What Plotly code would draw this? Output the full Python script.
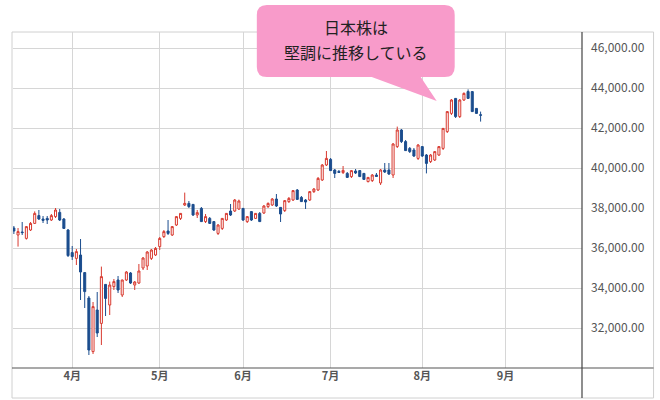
import plotly.graph_objects as go

# trading days (2025) and OHLC
dates = [
    "2025-03-11", "2025-03-12", "2025-03-13", "2025-03-14", "2025-03-17", "2025-03-18", "2025-03-19",
    "2025-03-21", "2025-03-24", "2025-03-25", "2025-03-26", "2025-03-27", "2025-03-28", "2025-03-31",
    "2025-04-01", "2025-04-02", "2025-04-03", "2025-04-04", "2025-04-07", "2025-04-08", "2025-04-09",
    "2025-04-10", "2025-04-11", "2025-04-14", "2025-04-15", "2025-04-16", "2025-04-17", "2025-04-18",
    "2025-04-21", "2025-04-22", "2025-04-23", "2025-04-24", "2025-04-25", "2025-04-28", "2025-04-30",
    "2025-05-01", "2025-05-02", "2025-05-07", "2025-05-08", "2025-05-09", "2025-05-12", "2025-05-13",
    "2025-05-14", "2025-05-15", "2025-05-16", "2025-05-19", "2025-05-20", "2025-05-21", "2025-05-22",
    "2025-05-23", "2025-05-26", "2025-05-27", "2025-05-28", "2025-05-29", "2025-05-30",
    "2025-06-02", "2025-06-03", "2025-06-04", "2025-06-05", "2025-06-06", "2025-06-09", "2025-06-10",
    "2025-06-11", "2025-06-12", "2025-06-13", "2025-06-16", "2025-06-17", "2025-06-18", "2025-06-19",
    "2025-06-20", "2025-06-23", "2025-06-24", "2025-06-25", "2025-06-26", "2025-06-27", "2025-06-30",
    "2025-07-01", "2025-07-02", "2025-07-03", "2025-07-04", "2025-07-07", "2025-07-08", "2025-07-09",
    "2025-07-10", "2025-07-11", "2025-07-14", "2025-07-15", "2025-07-16", "2025-07-17", "2025-07-18",
    "2025-07-22", "2025-07-23", "2025-07-24", "2025-07-25", "2025-07-28", "2025-07-29", "2025-07-30",
    "2025-07-31", "2025-08-01", "2025-08-04", "2025-08-05", "2025-08-06", "2025-08-07", "2025-08-08",
    "2025-08-12", "2025-08-13", "2025-08-14", "2025-08-15", "2025-08-18", "2025-08-19", "2025-08-20",
    "2025-08-21", "2025-08-22",
]
open_ = [
    37000, 36650, 36800, 36480, 36900, 37230, 37620, 37450, 37480, 37400, 37570, 37780, 37450, 36900,
    35770, 35480, 35650, 34770, 33500, 30820, 32900, 32230, 34180, 33150, 34070, 34400, 33650, 34400,
    34750, 34150, 34250, 35000, 35100, 35480, 35650,
    36070, 36570, 36850, 36650, 37150, 37480, 38150, 38230, 38180, 37650, 37980, 37320, 37480, 37320,
    36730, 36980, 37400, 37850, 37850, 37950,
    37980, 37320, 37820, 37480, 37730, 37750, 38070, 38150, 38450, 38030, 37870, 38320, 38400, 38900,
    38530, 38400, 38400, 38820, 38900, 39400, 40150,
    40430, 39900, 39830, 39770, 39730, 39570, 39850, 39870, 39730, 39320, 39370, 39650, 39250, 39900,
    39900, 39650, 41070, 41900, 41320, 40980, 40900, 40480,
    41070, 40650, 40320, 40400, 40650, 40980, 41820, 42730, 43480, 42570, 43400, 43820, 43820,
    42980, 42660,
]
high = [
    37100, 37000, 37300, 37100, 37300, 37830, 37900, 37600, 37600, 37700, 38000, 37950, 37500, 36950,
    36100, 35950, 36450, 34800, 33600, 33300, 33800, 35070, 34200, 34320, 34450, 34600, 34420, 34850,
    34800, 34350, 35200, 35550, 35850, 35950, 36050,
    36550, 36900, 37400, 37100, 37600, 37750, 38770, 38350, 38200, 37900, 38050, 37700, 37550, 37350,
    37200, 37500, 37750, 38200, 38450, 38420,
    38000, 37600, 37850, 37750, 37800, 38150, 38280, 38500, 38700, 38050, 38400, 38550, 38900, 38950,
    38600, 38450, 38850, 39000, 39550, 40200, 40850,
    40500, 39950, 39900, 40100, 39800, 39900, 39950, 39900, 39750, 39550, 39700, 39750, 39950, 40250,
    40250, 41250, 42070, 41950, 41400, 41050, 41000, 41200,
    41100, 40700, 40700, 40850, 41100, 42000, 42850, 43450, 43500, 43450, 43780, 43930, 43850,
    43000, 42820,
]
low = [
    36700, 36070, 36650, 36420, 36850, 37200, 37400, 37250, 37200, 37350, 37500, 37350, 36950, 35550,
    35400, 35150, 33400, 33000, 30650, 30700, 31550, 31150, 32600, 32650, 33900, 33750, 33550, 34350,
    34200, 33900, 34200, 34900, 34900, 35400, 35600,
    35900, 36500, 36650, 36600, 37100, 37400, 38100, 38000, 37600, 37500, 37300, 37250, 37200, 36850,
    36650, 36900, 37350, 37600, 37800, 37900,
    37350, 37250, 37350, 37450, 37300, 37700, 38000, 38100, 38050, 37300, 37800, 38250, 38350, 38400,
    38300, 37950, 38350, 38750, 38850, 39350, 40100,
    39850, 39500, 39750, 39700, 39500, 39500, 39700, 39550, 39400, 39280, 39300, 39550, 39150, 39750,
    39650, 39500, 41000, 41250, 40850, 40750, 40550, 40400,
    40550, 39730, 40250, 40350, 40600, 40900, 41750, 42650, 42500, 42500, 43350, 43450, 42800,
    42700, 42320,
]
close = [
    36850, 36820, 36770, 37070, 37230, 37730, 37450, 37380, 37400, 37620, 37900, 37400, 36980, 35620,
    35570, 35820, 34800, 33820, 30900, 33070, 31750, 34570, 33480, 34150, 34320, 33900, 34400, 34800,
    34250, 34300, 34850, 35500, 35800, 35900, 35980,
    36480, 36820, 36730, 37070, 37570, 37730, 38230, 38070, 37650, 37770, 37320, 37570, 37230, 36900,
    37150, 37480, 37730, 37650, 38400, 38350,
    37400, 37570, 37400, 37730, 37320, 38100, 38230, 38450, 38100, 37700, 38370, 38480, 38870, 38430,
    38320, 38300, 38820, 38950, 39480, 40150, 40480,
    39870, 39730, 39780, 39880, 39530, 39870, 39750, 39570, 39430, 39530, 39650, 39580, 39900, 39800,
    39700, 41200, 41900, 41320, 40870, 40820, 40600, 41150,
    40600, 40230, 40650, 40820, 41070, 41980, 42820, 43400, 42570, 43400, 43730, 43480, 42820,
    42730, 42640,
]

# Tokyo market holidays in view (removed from the axis with weekends)
holidays = ["2025-03-20", "2025-04-29", "2025-05-05", "2025-05-06", "2025-07-21",
            "2025-08-11", "2025-09-15", "2025-09-23"]

month_ticks = ["2025-04-01", "2025-05-01", "2025-06-02", "2025-07-01", "2025-08-01", "2025-09-01"]
month_labels = ["4月", "5月", "6月", "7月", "8月", "9月"]

price_ticks = [32000, 34000, 36000, 38000, 40000, 42000, 44000, 46000]

callout_lines = ["日本株は", "堅調に推移している"]

# plot area in pixels (660x400 canvas)
L, R, T, B = 13, 582.4, 32, 368
W, H = R - L, B - T


def px(x):
    return (x - L) / W


def py(y):
    return (B - y) / H


fig = go.Figure()
fig.add_trace(go.Candlestick(
    x=dates, open=open_, high=high, low=low, close=close,
    increasing=dict(line=dict(color="#d8392f", width=1), fillcolor="white"),
    decreasing=dict(line=dict(color="#1b4d8e", width=1), fillcolor="#1b4d8e"),
    whiskerwidth=0,
    hoverinfo="skip",
))

# speech bubble
bl, br, bt, bb, r = 257, 455, 5, 77, 10
pts = [("M", bl + r, bt), ("L", br - r, bt), ("Q", br, bt, br, bt + r), ("L", br, bb - r),
       ("Q", br, bb, br - r, bb), ("L", 421, bb), ("L", 437, 101), ("L", 372, bb),
       ("L", bl + r, bb), ("Q", bl, bb, bl, bb - r), ("L", bl, bt + r), ("Q", bl, bt, bl + r, bt)]
path = ""
for p in pts:
    cmd, coords = p[0], p[1:]
    xy = []
    for i in range(0, len(coords), 2):
        xy.append(f"{px(coords[i]):.5f},{py(coords[i + 1]):.5f}")
    path += cmd + " ".join(xy) + " "
path += "Z"

shapes = [
    # outer frame
    dict(type="rect", xref="paper", yref="paper", x0=px(12), x1=px(654), y0=py(398), y1=py(32),
         line=dict(color="#d0d0d0", width=1), layer="below"),
    # bottom axis line, full width
    dict(type="line", xref="paper", yref="paper", x0=px(12), x1=px(654), y0=0, y1=0,
         line=dict(color="#555555", width=1.2)),
    # right price axis line, down through the date band
    dict(type="line", xref="paper", yref="paper", x0=1, x1=1, y0=py(398), y1=1,
         line=dict(color="#444444", width=1.2)),
    dict(type="path", xref="paper", yref="paper", path=path,
         fillcolor="#f89bca", line=dict(width=0), layer="above"),
]

annotations = []
for text, ypix in zip(callout_lines, [27, 52]):
    annotations.append(dict(
        xref="paper", yref="paper", x=px(356), y=py(ypix), xanchor="center", yanchor="middle",
        text=text, showarrow=False, font=dict(size=16, color="#222222"),
    ))

fig.update_layout(
    width=660, height=400,
    margin=dict(l=L, r=660 - R, t=T, b=400 - B),
    paper_bgcolor="white", plot_bgcolor="white",
    showlegend=False,
    font=dict(family="Noto Sans CJK JP, Noto Sans, sans-serif", color="#555555"),
    shapes=shapes,
    annotations=annotations,
)
fig.update_xaxes(
    type="date",
    range=["2025-03-10 19:00", "2025-09-29 08:00"],
    rangebreaks=[dict(bounds=["sat", "mon"]), dict(values=holidays)],
    rangeslider=dict(visible=False),
    tickmode="array", tickvals=month_ticks, ticktext=month_labels,
    showgrid=True, gridcolor="#d6d6d6", gridwidth=1,
    showline=False, zeroline=False, ticks="",
    tickfont=dict(size=11, color="#555555", weight="bold"),
)
fig.update_yaxes(
    side="right",
    range=[30000, 46800],
    tickmode="array", tickvals=price_ticks, tickformat=",.2f",
    showgrid=True, gridcolor="#d6d6d6", gridwidth=1,
    showline=False, zeroline=False, ticks="",
    ticklabelstandoff=8,
    tickfont=dict(size=12, color="#555555"),
)

# page body has a default 8px margin; drop it so the figure sits at the top-left corner
fig.write_html("out.html", config={"displayModeBar": False},
               post_script="document.body.style.margin='0';")
